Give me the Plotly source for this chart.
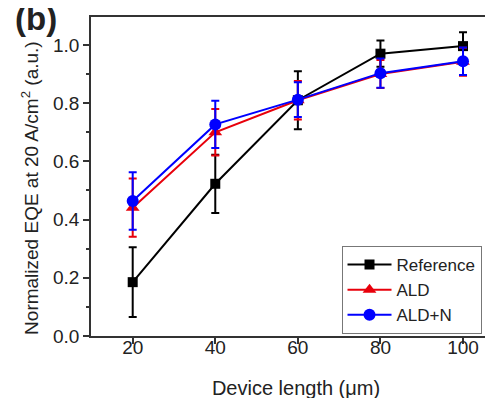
import plotly.graph_objects as go

lengths = [20, 40, 60, 80, 100]
ref_vals = [0.185, 0.523, 0.81, 0.970, 0.996]
ref_err = [0.12, 0.10, 0.10, 0.045, 0.048]
ald_vals = [0.441, 0.700, 0.810, 0.900, 0.942]
ald_err = [0.100, 0.080, 0.066, 0.048, 0.048]
aldn_vals = [0.464, 0.727, 0.812, 0.903, 0.944]
aldn_err = [0.099, 0.081, 0.060, 0.050, 0.047]
x_ticks = [20, 40, 60, 80, 100]
y_ticks = [0.0, 0.2, 0.4, 0.6, 0.8, 1.0]

FONT = "Liberation Sans, Arial, sans-serif"

fig = go.Figure()
series = [
    ("Reference", ref_vals, ref_err, "#000000", "square", 10),
    ("ALD", ald_vals, ald_err, "#E8000B", "triangle-up", 12),
    ("ALD+N", aldn_vals, aldn_err, "#0000FF", "circle", 12),
]
for name, vals, err, col, sym, sz in series:
    fig.add_trace(go.Scatter(
        x=lengths, y=vals, name=name, mode="lines+markers",
        line=dict(color=col, width=2),
        marker=dict(symbol=sym, size=sz, color=col),
        error_y=dict(type="data", array=err, visible=True, color=col,
                     thickness=2, width=4),
    ))

fig.update_layout(
    width=493, height=398,
    margin=dict(l=83, r=0, t=9, b=70),
    paper_bgcolor="white", plot_bgcolor="white",
    font=dict(family=FONT, color="#222", size=19),
    showlegend=True,
    legend=dict(x=0.611, y=0.282, xanchor="left", yanchor="top",
                bordercolor="#777", borderwidth=1, bgcolor="white",
                font=dict(size=17, family=FONT, color="#222"),
                tracegroupgap=0, itemwidth=44),
)
fig.add_annotation(text="<b>(b)</b>", xref="paper", yref="paper", x=-0.19, y=0.93,
                   xanchor="left", yanchor="bottom", showarrow=False,
                   font=dict(size=33, family=FONT, color="#222"))
fig.add_annotation(text="Normalized EQE at 20 A/cm<sup>2</sup> (a.u.)", xref="paper",
                   yref="paper", x=-0.149, y=0.464, xanchor="center", yanchor="middle",
                   textangle=-90, showarrow=False,
                   font=dict(size=19, family=FONT, color="#222"))

fig.update_xaxes(range=[9.9, 109.2], tickvals=x_ticks, ticks="outside", ticklen=6,
                 tickwidth=1.5, tickcolor="#333", showline=True, linecolor="#333",
                 linewidth=1.5, mirror=True, showgrid=False, zeroline=False,
                 tickfont=dict(size=19), ticklabelstandoff=-13,
                 title=dict(text="Device length (μm)", font=dict(size=20), standoff=24))
fig.update_yaxes(range=[0, 1.096], tickvals=y_ticks, tickformat=".1f", ticks="outside",
                 ticklen=6, tickwidth=1.5, tickcolor="#333", showline=True,
                 linecolor="#333", linewidth=1.5, mirror=False, showgrid=False,
                 zeroline=False, tickfont=dict(size=19),
                 minor=dict(dtick=0.1, tick0=0, ticks="outside", ticklen=3.5,
                            tickwidth=1.5, tickcolor="#333"))

fig.write_html("out.html")
